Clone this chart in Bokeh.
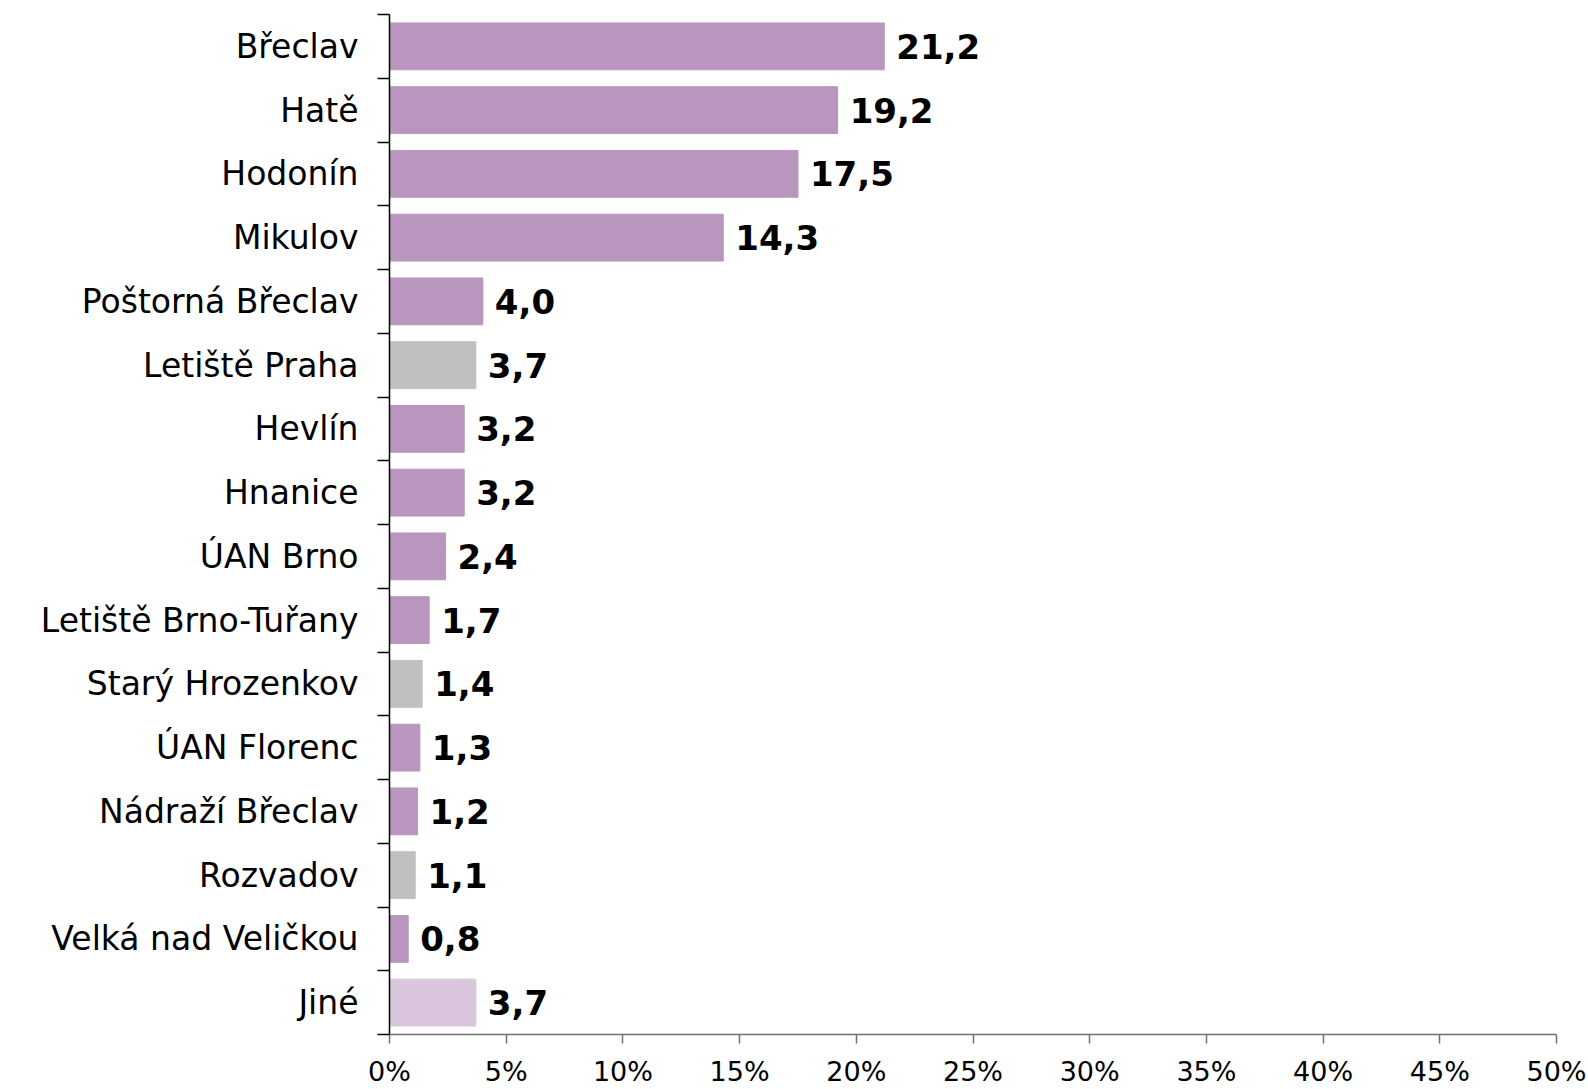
from bokeh.plotting import figure
from bokeh.models import Range1d, FixedTicker, ColumnDataSource, LabelSet
from bokeh.core.properties import value
from bokeh.embed import file_html
from bokeh.resources import INLINE

categories = ["Břeclav", "Hatě", "Hodonín", "Mikulov", "Poštorná Břeclav", "Letiště Praha",
              "Hevlín", "Hnanice", "ÚAN Brno", "Letiště Brno-Tuřany", "Starý Hrozenkov",
              "ÚAN Florenc", "Nádraží Břeclav", "Rozvadov", "Velká nad Veličkou", "Jiné"]
values = [21.2, 19.2, 17.5, 14.3, 4.0, 3.7, 3.2, 3.2, 2.4, 1.7, 1.4, 1.3, 1.2, 1.1, 0.8, 3.7]
groups = ["a", "a", "a", "a", "a", "b", "a", "a", "a", "a", "b", "a", "a", "b", "a", "c"]
x_ticks = [0, 5, 10, 15, 20, 25, 30, 35, 40, 45, 50]

color_map = {"a": "#B896BE", "b": "#C0C0C0", "c": "#D9C6DC"}

n = len(categories)
ys = list(range(n))
src = ColumnDataSource(dict(
    y=ys, v=values, cat=categories,
    color=[color_map[g] for g in groups],
    lab=[f"{v:.1f}".replace(".", ",") for v in values],
))

W, H = 1588, 1089
p = figure(width=W, height=H, output_backend="svg", toolbar_location=None,
           x_range=Range1d(0, 50), y_range=Range1d(n - 0.5, -0.5),
           min_border_left=389, min_border_right=32, min_border_top=14, min_border_bottom=53)
p.outline_line_color = None
p.grid.visible = False
p.background_fill_color = "white"

p.hbar(y="y", right="v", left=0, height=0.735, color="color", source=src)

labels = LabelSet(x="v", y="y", text="lab", source=src, x_offset=12, y_offset=0,
                  text_font=value("DejaVu Sans"), text_font_style="bold", text_font_size="34px",
                  text_baseline="middle", text_color="black")
p.add_layout(labels)

# y axis
yax = p.yaxis[0]
yax.ticker = FixedTicker(ticks=ys, minor_ticks=[i - 0.5 for i in range(n + 1)])
yax.major_label_overrides = {i: c for i, c in enumerate(categories)}
yax.major_tick_out = 0
yax.major_tick_in = 0
yax.minor_tick_out = 12
yax.minor_tick_in = 0
yax.minor_tick_line_color = "black"
yax.minor_tick_line_width = 1.5
yax.axis_line_color = "black"
yax.axis_line_width = 1.5
yax.major_label_text_font = "DejaVu Sans"
yax.major_label_text_font_size = "33px"
yax.major_label_text_color = "black"
yax.major_label_standoff = 19

# x axis
xax = p.xaxis[0]
xax.ticker = FixedTicker(ticks=x_ticks, minor_ticks=[])
xax.major_label_overrides = {t: f"{t}%" for t in x_ticks}
xax.major_tick_out = 9
xax.major_tick_in = 0
xax.major_tick_line_color = "#707070"
xax.major_tick_line_width = 1.5
xax.axis_line_color = "#707070"
xax.axis_line_width = 1.5
xax.major_label_text_font = "DejaVu Sans"
xax.major_label_text_font_size = "27px"
xax.major_label_text_color = "black"
xax.major_label_standoff = 12

open("out.html", "w").write(file_html(p, INLINE))
